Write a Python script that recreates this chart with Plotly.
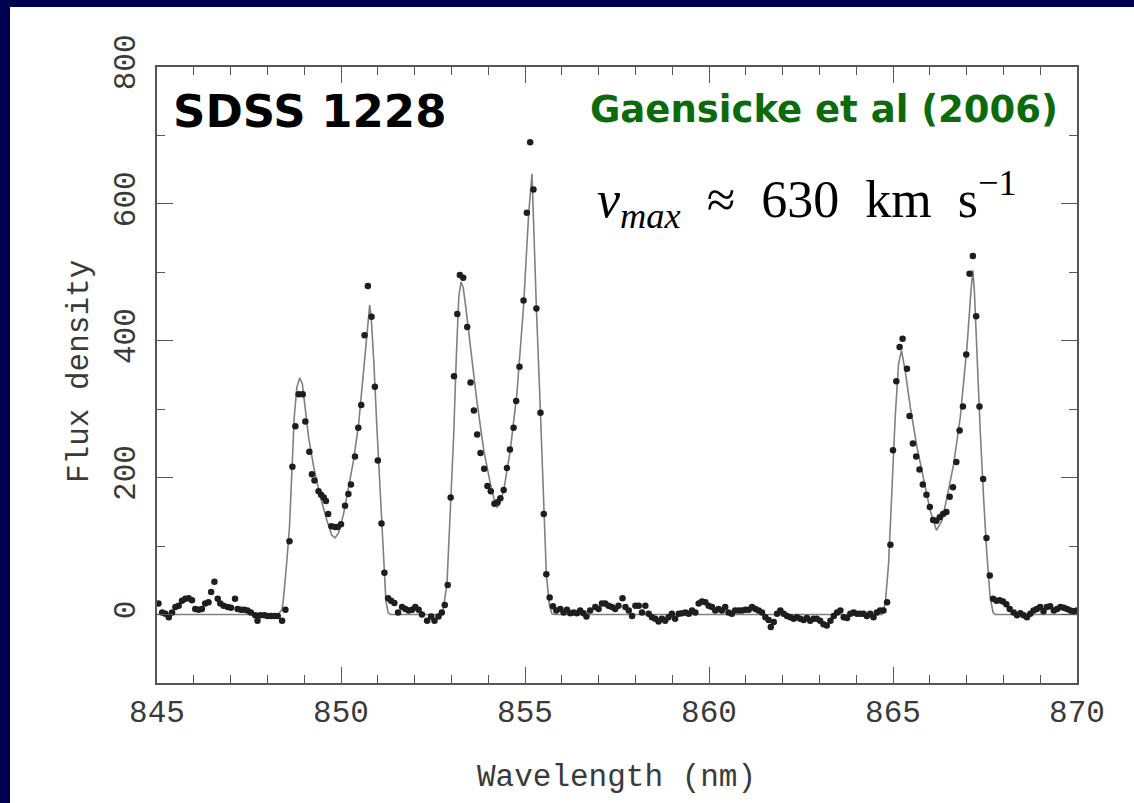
import plotly.graph_objects as go

# ---------------- data ----------------
obs_wl = [
    845.04, 845.14, 845.23, 845.32, 845.41, 845.50, 845.59, 845.68, 845.77, 845.86,
    845.95, 846.04, 846.13, 846.22, 846.31, 846.40, 846.47, 846.56, 846.65, 846.72,
    846.81, 846.92, 847.01, 847.12, 847.19, 847.28, 847.37, 847.46, 847.55, 847.67,
    847.73, 847.81, 847.92, 848.01, 848.10, 848.19, 848.28, 848.40,
    848.49, 848.60, 848.68, 848.76, 848.85, 848.96, 849.03, 849.14, 849.21, 849.28,
    849.39, 849.46, 849.53, 849.59, 849.65, 849.74, 849.84, 849.91, 850.00, 850.11,
    850.20, 850.27, 850.38, 850.47, 850.55, 850.64, 850.73, 850.83, 850.92, 851.00,
    851.10, 851.18, 851.28, 851.36, 851.45, 851.55, 851.66, 851.75, 851.84, 851.93,
    852.02, 852.11, 852.20, 852.34, 852.45, 852.54, 852.65, 852.74, 852.82, 852.90,
    852.98, 853.07, 853.16, 853.23, 853.32, 853.43, 853.52, 853.61, 853.70, 853.79,
    853.89, 853.98, 854.07, 854.17, 854.25, 854.33, 854.42, 854.51, 854.59, 854.69,
    854.76, 854.85, 854.96, 855.05, 855.14, 855.23, 855.31, 855.42, 855.51, 855.58,
    855.67, 855.76, 855.85, 855.96, 856.05, 856.14, 856.23, 856.32, 856.41, 856.50,
    856.59, 856.67, 856.77, 856.91, 857.00,
    857.09, 857.18, 857.27, 857.36, 857.45, 857.54, 857.65, 857.73, 857.82, 857.91,
    858.00, 858.09, 858.18, 858.27, 858.36, 858.45, 858.54, 858.63, 858.72, 858.81,
    858.90, 858.99, 859.08, 859.18, 859.27, 859.36, 859.45, 859.54, 859.63, 859.72,
    859.81, 859.90, 859.99, 860.08, 860.17, 860.26, 860.35, 860.44, 860.53, 860.62,
    860.71, 860.81, 860.90, 860.99, 861.08, 861.17, 861.26, 861.35, 861.44, 861.53,
    861.62, 861.68, 861.76, 861.85, 861.94, 862.03, 862.12, 862.21, 862.30, 862.39,
    862.48, 862.57, 862.66, 862.75, 862.84, 862.93, 863.02, 863.11, 863.20, 863.30,
    863.39, 863.48, 863.57, 863.66, 863.75, 863.84, 863.93, 864.02, 864.11, 864.20,
    864.29, 864.38, 864.47, 864.56, 864.65, 864.74,
    864.84, 864.93, 865.00, 865.09, 865.18, 865.26, 865.38, 865.45, 865.54, 865.63,
    865.72, 865.81, 865.91, 866.00, 866.09, 866.18, 866.27, 866.36, 866.45, 866.54,
    866.63, 866.72, 866.81, 866.90, 866.99, 867.08, 867.17, 867.26, 867.35, 867.45,
    867.54, 867.63, 867.72, 867.81, 867.90, 867.99, 868.08, 868.17, 868.28, 868.37,
    868.46, 868.55, 868.64, 868.73, 868.82, 868.91, 869.00, 869.09, 869.18, 869.27,
    869.37, 869.46, 869.55, 869.64, 869.73, 869.82, 869.91, 870.00,
]
obs_flux = [
    16, 3, 1, -4, 3, 11, 13, 20, 23, 24,
    21, 8, 7, 8, 16, 18, 33, 48, 23, 16,
    13, 11, 10, 23, 8, 7, 7, 6, 3, -1,
    -9, -1, -1, -2, -2, -2, -2, -9,
    7, 107, 216, 275, 322, 322, 282, 238, 205, 196,
    180, 175, 171, 166, 147, 129, 128, 128, 132, 159,
    176, 190, 231, 273, 306, 408, 480, 435, 333, 225,
    133, 61, 24, 20, 17, 3, 11, 8, 6, 7,
    11, 7, 0, -9, -3, -9, -3, 3, 14, 43,
    171, 348, 439, 496, 492, 420, 339, 298, 263, 236,
    213, 188, 180, 162, 164, 170, 182, 214, 241, 273,
    312, 362, 459, 587, 690, 621, 447, 295, 147, 59,
    25, 12, 6, 8, 3, 7, 2, 3, 2, 6,
    2, -3, 6, 11, 8,
    16, 16, 13, 11, 8, 13, 24, 11, 6, -2,
    13, 13, 3, 13, 1, -4, -6, -10, -6, -9,
    -4, 1, -6, 1, 2, 3, 1, 6, 3, 16,
    19, 18, 13, 11, 6, 8, 6, 11, 3, 1,
    6, 6, 6, 7, 7, 11, 8, 6, 3, -4,
    -8, -18, -11, 1, 6, 1, -2, -4, -6, -4,
    -6, -8, -5, -9, -6, -6, -9, -14, -16, -9,
    -2, 3, 6, -4, -5, 1, 3, 1, 1, 1,
    -2, 1, -4, 3, 6, 6,
    18, 102, 240, 341, 391, 403, 359, 290, 250, 231,
    212, 190, 175, 157, 138, 137, 142, 147, 150, 172,
    186, 223, 269, 304, 380, 498, 524, 436, 304, 198,
    112, 57, 23, 20, 21, 19, 15, 8, 3, -1,
    2, -1, -4, 1, 6, 8, 11, 5, 11, 12,
    6, 8, 11, 10, 8, 6, 5, 6,
]

model_wl = [
    845.00, 848.30, 848.40, 848.44, 848.53, 848.60, 848.67, 848.73, 848.80, 848.88,
    848.95, 849.03, 849.12, 849.26, 849.44, 849.62, 849.75, 849.84, 849.94, 850.07,
    850.21, 850.34, 850.48, 850.61, 850.72, 850.78, 850.82, 850.89, 850.98, 851.07,
    851.16, 851.22, 851.28, 851.34,
    852.70, 852.77, 852.88, 852.97, 853.06, 853.13, 853.20, 853.26, 853.32, 853.38,
    853.51, 853.69, 853.88, 854.06, 854.19, 854.24, 854.30, 854.42, 854.60, 854.78,
    854.96, 855.10, 855.19, 855.24, 855.31, 855.42, 855.51, 855.58, 855.66, 855.73,
    855.80,
    864.70, 864.79, 864.88, 864.97, 865.06, 865.15, 865.23, 865.33, 865.47, 865.65,
    865.83, 866.01, 866.18, 866.33, 866.47, 866.65, 866.83, 867.01, 867.12, 867.17,
    867.21, 867.28, 867.37, 867.46, 867.55, 867.64, 867.72, 867.78, 870.00,
]
model_flux = [
    0, 0, 8, 25, 79, 128, 215, 289, 332, 346,
    337, 298, 259, 215, 172, 137, 116, 112, 120, 147,
    186, 225, 279, 357, 425, 452, 435, 371, 269, 167,
    74, 20, 3, 0,
    0, 5, 45, 142, 259, 371, 464, 486, 478, 454,
    391, 313, 240, 191, 162, 157, 160, 181, 240, 323,
    450, 586, 644, 560, 447, 295, 147, 59, 15, 1,
    0,
    0, 16, 74, 181, 289, 366, 386, 357, 303, 245,
    196, 152, 123, 137, 172, 220, 289, 391, 474, 503,
    474, 381, 269, 172, 89, 25, 3, 0, 0,
]

x_ticks = [845, 850, 855, 860, 865, 870]
y_ticks = [0, 200, 400, 600, 800]

# ---------------- figure ----------------
NAVY = "#000050"
AXC = "#555555"
MONO = "Liberation Mono"

fig = go.Figure()
fig.add_trace(go.Scatter(
    x=model_wl, y=model_flux, mode="lines",
    line=dict(color="#808080", width=1.6), hoverinfo="skip", showlegend=False))
fig.add_trace(go.Scatter(
    x=obs_wl, y=obs_flux, mode="markers",
    marker=dict(symbol="circle", size=6.5, color="#1e1e1e"), showlegend=False))

axis_common = dict(
    showline=True, linecolor=AXC, linewidth=1.5, mirror="ticks",
    ticks="inside", tickcolor=AXC, tickwidth=1.3, ticklen=16,
    showgrid=False, zeroline=False,
    tickfont=dict(family=MONO, size=31, color="#3a3a3a"),
)
fig.update_xaxes(range=[845, 870], tickvals=x_ticks, ticktext=[str(v) for v in x_ticks],
                 minor=dict(dtick=1, tick0=845, ticks="inside", ticklen=8,
                            tickcolor=AXC, tickwidth=1.3),
                 ticklabelstandoff=0, **axis_common)
fig.update_yaxes(range=[-100, 800], tickvals=y_ticks, ticktext=[str(v) for v in y_ticks],
                 tickangle=-90,
                 minor=dict(dtick=100, tick0=0, ticks="inside", ticklen=8,
                            tickcolor=AXC, tickwidth=1.3),
                 ticklabelstandoff=8, **axis_common)

W, H = 1134, 803
L, R, T, B = 157, 57, 67, 120
pw, ph = W - L - R, H - T - B

def px(xp):
    return (xp - L) / pw

def py(yp):
    return (H - B - yp) / ph

NB = "\u00a0"
math_text = ("<i>v</i><sub><i>max</i></sub>" + NB * 2 + "\u2248" + NB * 2 + "630"
             + NB * 2 + "km" + NB * 2 + "s<sup>\u22121</sup>")

fig.update_layout(
    width=W, height=H,
    margin=dict(l=L, r=R, t=T, b=B, autoexpand=False),
    paper_bgcolor=NAVY, plot_bgcolor="white",
    shapes=[dict(type="rect", xref="paper", yref="paper", layer="below",
                 x0=px(10), x1=px(1140), y0=py(810), y1=py(7),
                 fillcolor="white", line=dict(width=0))],
    annotations=[
        dict(text="Wavelength (nm)", xref="paper", yref="paper",
             x=px(616), y=py(777), showarrow=False, xanchor="center", yanchor="middle",
             font=dict(family=MONO, size=31, color="#3a3a3a")),
        dict(text="Flux density", xref="paper", yref="paper", textangle=-90,
             x=px(79), y=py(372), showarrow=False, xanchor="center", yanchor="middle",
             font=dict(family=MONO, size=31, color="#3a3a3a")),
        dict(text="<b>SDSS 1228</b>", xref="paper", yref="paper",
             x=px(309), y=py(112), showarrow=False, xanchor="center", yanchor="middle",
             font=dict(family="DejaVu Sans", size=45, color="black")),
        dict(text="<b>Gaensicke et al (2006)</b>", xref="paper", yref="paper",
             x=px(824), y=py(109), showarrow=False, xanchor="center", yanchor="middle",
             font=dict(family="DejaVu Sans", size=37, color="#0b6b0b")),
        dict(text=math_text, xref="paper", yref="paper",
             x=px(807), y=py(199), showarrow=False, xanchor="center", yanchor="middle",
             font=dict(family="Liberation Serif", size=52, color="black")),
    ],
)

fig.write_html("out.html", config={"displayModeBar": False})
